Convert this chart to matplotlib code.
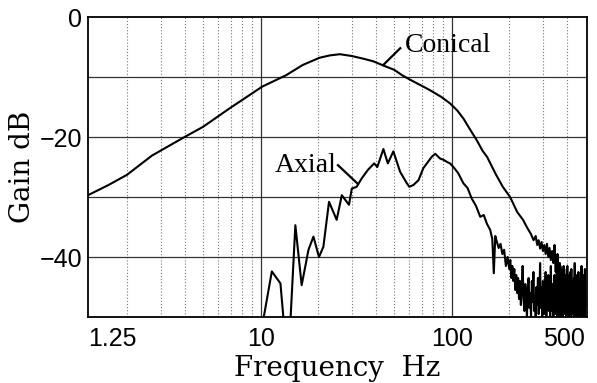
"""Gain vs frequency for conical and axial modes."""
import matplotlib
matplotlib.use("Agg")
import matplotlib.pyplot as plt

# Conical response (Hz, dB)
conical_f = [1.25, 1.6, 2.0, 2.7, 3.9, 5.0, 6.9, 10.2, 13.6, 16.6, 20.3, 23, 26, 30,
             35, 39, 44, 50, 55, 61, 70, 77, 88, 98, 107, 115, 125, 135, 145, 153,
             170, 185, 202, 220, 236, 247, 260, 268, 275, 280, 285, 290, 295, 300,
             305, 310, 315, 320, 325, 330, 335, 340, 345, 350, 352.5, 355, 357.5,
             360, 362.5, 365, 367.5, 370, 372.5, 375, 377.5, 380, 382.5, 385, 387.5,
             390, 392.5, 395, 397.5, 400, 402.5, 405, 407.5, 410, 412.5, 415, 417.5,
             420, 422.5, 425, 427.5, 430, 432.5, 435, 437.5, 440, 442.5, 445, 447.5,
             450, 452.5, 455, 457.5, 460, 462.5, 465, 467.5, 470, 472.5, 475, 477.5,
             480, 482.5, 485, 487.5, 490, 492.5, 495, 497.5, 500]
conical_db = [-29.7, -28.0, -26.3, -23.1, -20.2, -18.3, -15.2, -11.6, -9.7, -8.0, -6.8,
              -6.4, -6.2, -6.5, -7.0, -7.4, -8.1, -8.8, -9.7, -10.5, -11.5, -12.2,
              -13.3, -14.4, -15.6, -16.9, -18.8, -20.5, -22.3, -23.3, -26.2, -28.3,
              -30.0, -32.5, -33.8, -35.0, -36.2, -37.2, -36.5, -38.0, -37.2, -38.6,
              -37.5, -39.0, -38.0, -39.5, -37.8, -40.0, -38.5, -40.5, -39.0, -41.0,
              -38.0, -42.5, -40.0, -43.5, -39.5, -41.0, -44.0, -42.0, -45.0, -41.5,
              -43.0, -46.0, -42.0, -44.5, -47.0, -41.5, -45.0, -43.0, -48.0, -44.0,
              -46.5, -42.0, -49.0, -45.0, -43.0, -47.5, -44.0, -49.0, -42.5, -46.0,
              -48.5, -44.0, -47.0, -45.0, -49.5, -43.5, -48.0, -44.0, -46.5, -50.0,
              -45.0, -48.0, -43.0, -49.0, -46.0, -44.5, -50.0, -47.0, -45.0, -49.0,
              -43.5, -48.5, -46.0, -50.0, -45.0, -47.5, -44.0, -49.0, -46.5, -50.0,
              -45.5, -48.0]

# Axial response (Hz, dB)
axial_f = [10.0, 11.45, 12.7, 13.4, 14.2, 15.2, 16.4, 17.8, 18.9, 20.2, 21.3, 22.8,
           25.0, 26.6, 29.0, 30.0, 31.8, 33.8, 36.6, 39.3, 40.8, 43.9, 46.3, 49.5,
           53.7, 58.2, 60.0, 63.0, 67.0, 71.0, 78.6, 82, 87.0, 90.6, 95, 98.0, 102,
           108, 115, 121, 127, 134, 141, 147, 153, 159, 163, 166, 169, 172, 176, 180,
           184, 188, 192, 196,
           200, 202.5, 205, 207.5, 210, 212.5, 215, 217.5, 220, 222.5, 225, 227.5,
           230, 232.5, 235, 237.5, 240, 242.5, 245, 247.5, 250, 252.5, 255, 257.5,
           260, 262.5, 265, 267.5, 270, 272.5, 275, 277.5, 280, 282.5, 285, 287.5,
           290, 292.5, 295, 297.5, 300, 302.5, 305, 307.5, 310, 312.5, 315, 317.5,
           320, 322.5, 325, 327.5, 330, 332.5, 335, 337.5, 340, 342.5, 345, 347.5,
           350, 352.5, 355, 357.5, 360, 362.5, 365, 367.5, 370, 372.5, 375, 377.5,
           380, 382.5, 385, 387.5, 390, 392.5, 395, 397.5, 400, 402.5, 405, 407.5,
           410, 412.5, 415, 417.5, 420, 422.5, 425, 427.5, 430, 432.5, 435, 437.5,
           440, 442.5, 445, 447.5, 450, 452.5, 455, 457.5, 460, 462.5, 465, 467.5,
           470, 472.5, 475, 477.5, 480, 482.5, 485, 487.5, 490, 492.5, 495, 497.5,
           500]
axial_db = [-53, -42.4, -44.4, -53, -53, -34.7, -44.7, -38.8, -36.6, -40.0, -38.3,
            -30.8, -33.8, -29.7, -31.3, -28.6, -28.3, -26.9, -25.4, -24.4, -25.0,
            -22.0, -24.4, -22.4, -25.8, -27.7, -28.3, -28.0, -27.2, -25.2, -23.3,
            -22.8, -23.6, -23.8, -24.2, -24.4, -25.0, -26.0, -27.7, -28.5, -30.2,
            -31.5, -33.3, -33.0, -34.5, -35.5, -37.0, -42.7, -36.5, -37.4, -38.5,
            -37.8, -39.5, -38.8, -41.5, -40.0,
            -42.0, -40.5, -43.5, -41.5, -44.0, -42.0, -45.5, -43.0, -46.0, -43.5,
            -47.0, -44.0, -48.0, -45.0, -41.5, -47.0, -49.0, -44.5, -47.5, -50.0,
            -45.0, -43.5, -48.5, -46.0, -50.0, -44.0, -47.5, -42.5, -49.0, -46.5,
            -50.0, -45.0, -48.0, -43.5, -49.5, -46.0, -41.0, -48.5, -45.0, -50.0,
            -44.0, -47.0, -49.5, -45.5, -42.5, -50.0, -46.5, -48.0, -43.0, -49.0,
            -45.0, -50.0, -41.5, -47.5, -49.0, -44.5, -50.0, -46.0, -43.0, -49.5,
            -45.5, -48.0, -42.0, -50.0, -46.5, -44.0, -49.0, -41.0, -50.0, -45.0,
            -48.5, -43.5, -50.0, -46.0, -42.5, -49.5, -45.5, -48.0, -44.0, -50.0,
            -46.5, -41.5, -49.0, -45.0, -50.0, -43.5, -48.0, -46.0, -50.0, -42.0,
            -49.5, -45.5, -48.5, -44.0, -50.0, -46.5, -41.0, -49.0, -45.0, -50.0,
            -43.5, -48.0, -46.0, -50.0, -42.5, -49.5, -45.5, -48.5, -44.0, -50.0,
            -46.5, -41.5, -49.0, -45.0, -50.0, -43.0, -48.5, -46.0, -50.0, -42.0,
            -48.0]

x_ticks = [1.25, 10, 100, 500]
x_tick_labels = ["1.25", "10", "100", "500"]
x_dotted = [2, 3, 4, 5, 6, 7, 8, 9, 20, 30, 40, 50, 60, 70, 80, 90, 200, 300, 400]
y_ticks = [0, -20, -40]
y_tick_labels = ["0", "\u221220", "\u221240"]
y_grid = [-10, -20, -30, -40]

fig = plt.figure(figsize=(5.97, 3.83), dpi=100)
ax = fig.add_axes([0.1474, 0.1723, 0.8358, 0.7833])
ax.set_xscale("log")
ax.set_xlim(1.25, 510)
ax.set_ylim(-50, 0)

for xv in x_dotted:
    ax.axvline(xv, color="#777777", lw=0.8, ls=(0, (1, 1.8)), zorder=1)
for xv in [10, 100]:
    ax.axvline(xv, color="#333333", lw=0.9, zorder=1)
for yv in y_grid:
    ax.axhline(yv, color="#333333", lw=0.9, zorder=1)

ax.plot(conical_f, conical_db, color="black", lw=1.5, zorder=3)
ax.plot(axial_f, axial_db, color="black", lw=1.5, zorder=3)

ax.set_xticks(x_ticks)
ax.set_xticklabels(x_tick_labels, family="Liberation Sans", fontsize=18)
ax.minorticks_off()
ax.set_yticks(y_ticks)
ax.set_yticklabels(y_tick_labels, family="Liberation Sans", fontsize=18)
ax.tick_params(axis="both", length=0)
ax.tick_params(axis="x", pad=7)
ax.tick_params(axis="y", pad=4)
xl = ax.get_xticklabels()
xl[0].set_ha("left")
xl[-1].set_ha("right")

for s in ax.spines.values():
    s.set_linewidth(1.3)

ax.set_xlabel("Frequency  Hz", family="DejaVu Serif", fontsize=20, labelpad=3)
ax.set_ylabel("Gain dB", family="DejaVu Serif", fontsize=20, labelpad=3)

ax.text(57, -5.8, "Conical", family="Liberation Serif", fontsize=20, va="baseline")
ax.plot([53.8, 43.8], [-5.2, -8.0], color="black", lw=1.6)
ax.text(11.9, -25.8, "Axial", family="Liberation Serif", fontsize=20, va="baseline")
ax.plot([25.4, 32.0], [-24.7, -27.7], color="black", lw=1.6)

fig.savefig("out.png", dpi=100)
